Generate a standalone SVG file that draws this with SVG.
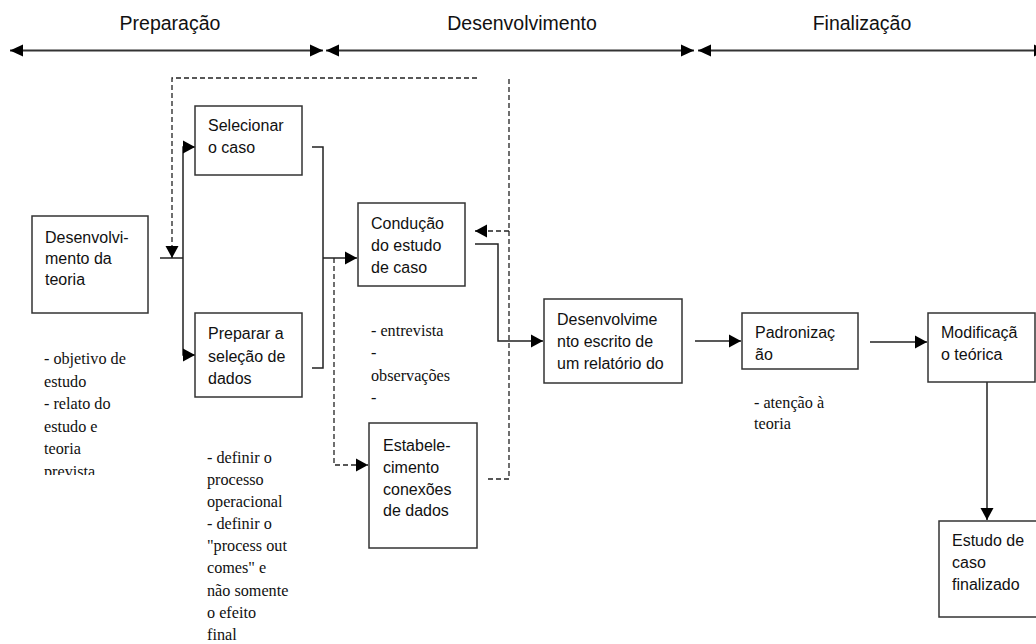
<svg xmlns="http://www.w3.org/2000/svg" width="1036" height="644" viewBox="0 0 1036 644">
<style>
.box{fill:#fff;stroke:#333;stroke-width:1.5}
.t{font-family:"Liberation Sans",Arial,sans-serif;font-size:16px;fill:#111}
.ph{font-family:"Liberation Sans",Arial,sans-serif;font-size:19.5px;fill:#111}
.n{font-family:"Liberation Serif","Times New Roman",serif;font-size:16.2px;fill:#111}
.c{fill:none;stroke:#222;stroke-width:1.5}
.d{fill:none;stroke:#222;stroke-width:1.3;stroke-dasharray:5,3}
.p{fill:none;stroke:#333;stroke-width:2}
</style>
<defs>
<marker id="a" markerUnits="userSpaceOnUse" markerWidth="14" markerHeight="14" refX="12" refY="7" orient="auto"><path d="M0,0.5 L12,7 L0,13.5 z" fill="#000"/></marker>
<marker id="pa" markerUnits="userSpaceOnUse" markerWidth="14" markerHeight="14" refX="13" refY="7" orient="auto-start-reverse"><path d="M0,1 L13,7 L0,13 z" fill="#000"/></marker>
<clipPath id="clipPrev"><rect x="0" y="300" width="200" height="175"/></clipPath>
</defs>

<g id="phases">
<text class="ph" x="170" y="30" text-anchor="middle">Preparação</text>
<text class="ph" x="522" y="30" text-anchor="middle">Desenvolvimento</text>
<text class="ph" x="862" y="30" text-anchor="middle">Finalização</text>
<path class="p" d="M10,50.5 H323" marker-start="url(#pa)" marker-end="url(#pa)"/>
<path class="p" d="M326,50.5 H694" marker-start="url(#pa)" marker-end="url(#pa)"/>
<path class="p" d="M698,50.5 H1047" marker-start="url(#pa)" marker-end="url(#pa)"/>
</g>

<g id="connectors">
<path class="c" d="M160,258 H183"/>
<path class="c" d="M183,258 V147 H195" marker-end="url(#a)"/>
<path class="c" d="M183,258 V355 H195" marker-end="url(#a)"/>
<path class="d" d="M477,78 H172 V258" marker-end="url(#a)"/>
<path class="d" d="M509,79 V479 H486"/>
<path class="d" d="M509,231 H475" marker-end="url(#a)"/>
<path class="c" d="M312,147 H323 V368 H312"/>
<path class="c" d="M323,258 H357" marker-end="url(#a)"/>
<path class="d" d="M334,258 V465 H368" marker-end="url(#a)"/>
<path class="c" d="M475,244 H498 V341 H543" marker-end="url(#a)"/>
<path class="c" d="M695,341 H741" marker-end="url(#a)"/>
<path class="c" d="M870,342 H927" marker-end="url(#a)"/>
<path class="c" d="M987,382 V520" marker-end="url(#a)"/>
</g>

<g id="desenvolvimento-teoria">
<rect class="box" x="32" y="216" width="116" height="97"/>
<text class="t" x="45" y="243">Desenvolvi-</text>
<text class="t" x="45" y="264">mento da</text>
<text class="t" x="45" y="285">teoria</text>
</g>

<g id="selecionar-caso">
<rect class="box" x="195" y="106" width="107" height="69"/>
<text class="t" x="208" y="131">Selecionar</text>
<text class="t" x="208" y="153">o caso</text>
</g>

<g id="preparar-selecao">
<rect class="box" x="195" y="313" width="107" height="84"/>
<text class="t" x="208" y="339">Preparar a</text>
<text class="t" x="208" y="362">seleção de</text>
<text class="t" x="208" y="384">dados</text>
</g>

<g id="conducao">
<rect class="box" x="358" y="203" width="107" height="83"/>
<text class="t" x="371" y="229">Condução</text>
<text class="t" x="371" y="251">do estudo</text>
<text class="t" x="371" y="273">de caso</text>
</g>

<g id="estabelecimento">
<rect class="box" x="369" y="423" width="108" height="125"/>
<text class="t" x="383" y="451">Estabele-</text>
<text class="t" x="383" y="473">cimento</text>
<text class="t" x="383" y="495">conexões</text>
<text class="t" x="383" y="516">de dados</text>
</g>

<g id="desenvolvimento-escrito">
<rect class="box" x="544" y="299" width="138" height="84"/>
<text class="t" x="557" y="325">Desenvolvime</text>
<text class="t" x="557" y="347">nto escrito de</text>
<text class="t" x="557" y="369">um relatório do</text>
</g>

<g id="padronizacao">
<rect class="box" x="742" y="313" width="116" height="56"/>
<text class="t" x="755" y="338">Padronizaç</text>
<text class="t" x="755" y="360">ão</text>
</g>

<g id="modificacao">
<rect class="box" x="928" y="313" width="107" height="69"/>
<text class="t" x="941" y="338">Modificaçã</text>
<text class="t" x="941" y="360">o teórica</text>
</g>

<g id="estudo-finalizado">
<rect class="box" x="939" y="521" width="110" height="96"/>
<text class="t" x="952" y="546">Estudo de</text>
<text class="t" x="952" y="568">caso</text>
<text class="t" x="952" y="590">finalizado</text>
</g>

<g id="notes">
<g clip-path="url(#clipPrev)">
<text class="n" x="44" y="364">- objetivo de</text>
<text class="n" x="44" y="387">estudo</text>
<text class="n" x="44" y="409">- relato do</text>
<text class="n" x="44" y="432">estudo e</text>
<text class="n" x="44" y="454">teoria</text>
<text class="n" x="44" y="477">prevista</text>
</g>
<text class="n" x="207" y="463">- definir o</text>
<text class="n" x="207" y="485">processo</text>
<text class="n" x="207" y="507">operacional</text>
<text class="n" x="207" y="529">- definir o</text>
<text class="n" x="207" y="551">"process out</text>
<text class="n" x="207" y="573">comes" e</text>
<text class="n" x="207" y="596">não somente</text>
<text class="n" x="207" y="618">o efeito</text>
<text class="n" x="207" y="640">final</text>
<text class="n" x="371" y="336">- entrevista</text>
<text class="n" x="371" y="358">-</text>
<text class="n" x="371" y="381">observações</text>
<text class="n" x="371" y="403">-</text>
<text class="n" x="754" y="408">- atenção à</text>
<text class="n" x="754" y="429">teoria</text>
</g>
</svg>
